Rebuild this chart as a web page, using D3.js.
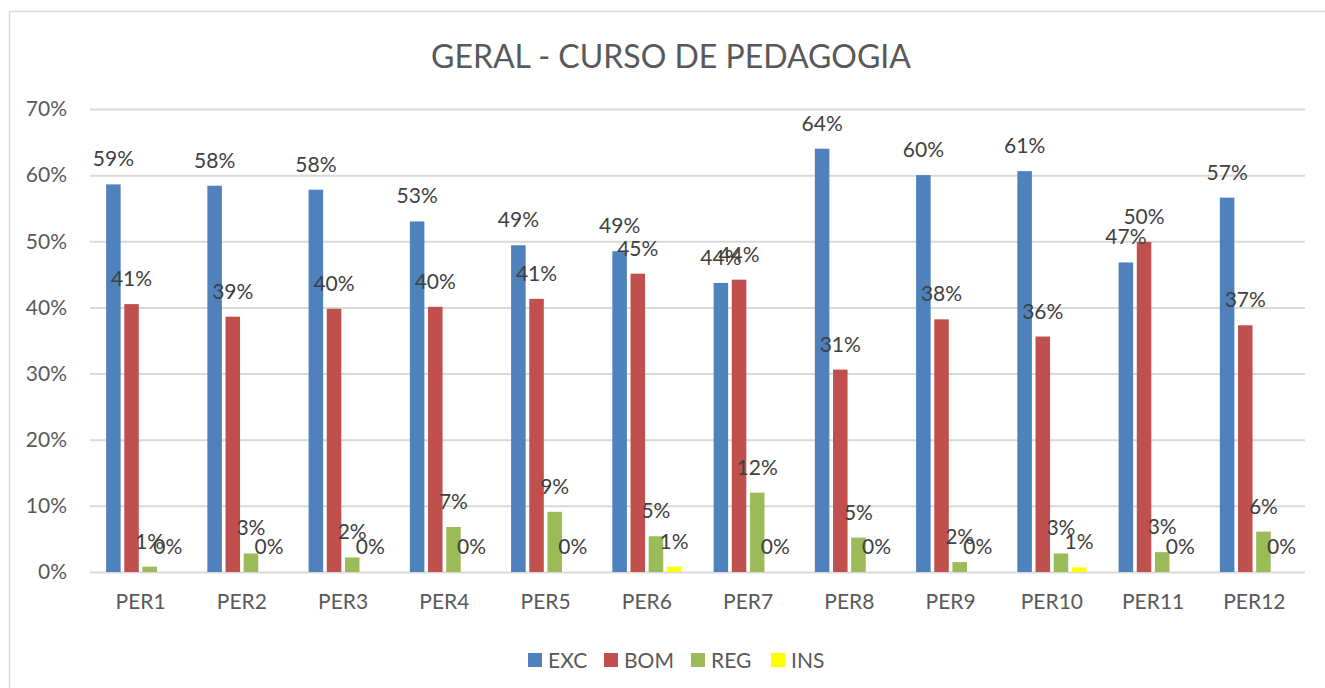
<!DOCTYPE html>
<html><head><meta charset="utf-8">
<script src="https://cdn.jsdelivr.net/npm/d3@7"></script>
<style>html,body{margin:0;padding:0;background:#fff;}svg{display:block;}</style>
</head><body>
<svg id="chart" width="1325" height="688"></svg>
<script>
const categories = ["PER1","PER2","PER3","PER4","PER5","PER6","PER7","PER8","PER9","PER10","PER11","PER12"];
const seriesNames = ["EXC","BOM","REG","INS"];
const seriesColors = ["#4F81BD","#C0504D","#9BBB59","#FFFF00"];
const excValues = [0.586,0.584,0.578,0.530,0.494,0.485,0.437,0.640,0.600,0.606,0.468,0.566];
const bomValues = [0.405,0.386,0.398,0.401,0.413,0.451,0.442,0.306,0.382,0.356,0.499,0.373];
const regValues = [0.008,0.028,0.022,0.068,0.091,0.054,0.120,0.052,0.015,0.028,0.030,0.061];
const insValues = [0.000,0.000,0.000,0.000,0.000,0.008,0.000,0.000,0.000,0.007,0.000,0.000];
const yTicks = [0,0.1,0.2,0.3,0.4,0.5,0.6,0.7];
const titleText = "GERAL - CURSO DE PEDAGOGIA";

const allValues = [excValues,bomValues,regValues,insValues];
const svg = d3.select("#chart");
const font = "Lato, 'Open Sans', sans-serif";
const textColor = "#595959";

// outer chart border
svg.append("rect").attr("x",9.5).attr("y",11.5).attr("width",1340).attr("height",700)
  .attr("fill","#fff").attr("stroke","#D9D9D9").attr("stroke-width",1.5);

const pLeft = 90, pRight = 1305, pTop = 109, pBottom = 572;
const x0 = d3.scaleBand().domain(categories).range([pLeft,pRight]).paddingInner(0.318).paddingOuter(0.159);
const x1 = d3.scaleBand().domain(seriesNames).range([0,x0.bandwidth()]).paddingInner(0.2).paddingOuter(0);
const y = d3.scaleLinear().domain([0,0.7]).range([pBottom,pTop]);

// gridlines
const yAxis = d3.axisLeft(y).tickValues(yTicks).tickFormat(d3.format(".0%")).tickSize(-(pRight-pLeft)).tickPadding(23);
const gy = svg.append("g").attr("transform",`translate(${pLeft},0)`).call(yAxis);
gy.select(".domain").remove();
gy.selectAll(".tick line").attr("stroke","#D9D9D9").attr("stroke-width",2);
gy.selectAll(".tick text").attr("fill",textColor).style("font-family",font).style("font-size","21px");

// x axis labels
const xAxis = d3.axisBottom(x0).tickSize(0).tickPadding(22);
const gx = svg.append("g").attr("transform",`translate(0,${pBottom})`).call(xAxis);
gx.select(".domain").remove();
gx.selectAll(".tick text").attr("fill",textColor).style("font-family",font).style("font-size","21px");

// bars
const data = [];
categories.forEach((c,i)=>{
  seriesNames.forEach((s,j)=>{ data.push({cat:c, ser:s, val:allValues[j][i], color:seriesColors[j]}); });
});
svg.append("g").selectAll("rect").data(data).join("rect")
  .attr("x",d=>x0(d.cat)+x1(d.ser))
  .attr("y",d=>y(d.val))
  .attr("width",x1.bandwidth())
  .attr("height",d=>pBottom - y(d.val))
  .attr("fill",d=>d.color);

// data labels
svg.append("g").selectAll("text").data(data).join("text")
  .attr("x",d=>x0(d.cat)+x1(d.ser)+x1.bandwidth()/2)
  .attr("y",d=>y(d.val)-18)
  .attr("text-anchor","middle")
  .attr("fill","#404040")
  .style("font-family",font).style("font-size","21px")
  .text(d=>d3.format(".0%")(d.val));

// title
svg.append("text").attr("x",671).attr("y",68).attr("text-anchor","middle")
  .attr("fill",textColor).style("font-family",font).style("font-size","32px")
  .text(titleText);

// legend
const legendX = [528,604,691,771];
const lg = svg.append("g").selectAll("g").data(seriesNames).join("g")
  .attr("transform",(d,i)=>`translate(${legendX[i]},653)`);
lg.append("rect").attr("width",14).attr("height",14).attr("fill",(d,i)=>seriesColors[i]);
lg.append("text").attr("x",20).attr("y",14.5).attr("fill",textColor)
  .style("font-family",font).style("font-size","21px").text(d=>d);
</script>
</body></html>
